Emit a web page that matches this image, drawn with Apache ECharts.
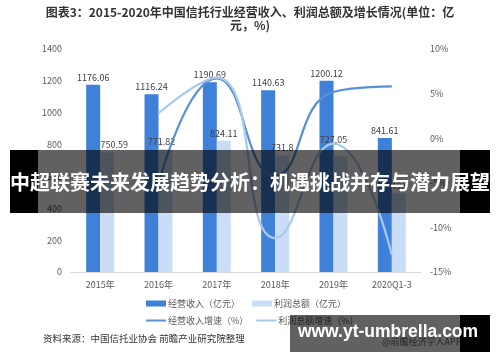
<!DOCTYPE html>
<html>
<head>
<meta charset="utf-8">
<script src="https://cdn.jsdelivr.net/npm/echarts@6/dist/echarts.min.js"></script>
<style>html,body{margin:0;padding:0;background:#fff;}#c{width:500px;height:362px;}</style>
</head>
<body>
<div id="c"></div>
<script>
const categories = ['2015年', '2016年', '2017年', '2018年', '2019年', '2020Q1-3'];
const revenue = [1176.06, 1116.24, 1190.69, 1140.63, 1200.12, 841.61];
const profit = [750.59, 771.82, 824.11, 731.8, 727.05, 493];
const revenueGrowth = [null, -5.1, 6.7, -4.2, 5.2, 5.8];
const profitGrowth = [null, 2.8, 6.8, -11.2, -0.6, -13.1];
const leftTicks = [0, 1400, 200];
const rightTicks = [-15, 10, 5];

const chart = echarts.init(document.getElementById('c'), null, {renderer: 'canvas'});
const FONT = '"Noto Sans CJK SC", "Noto Sans", sans-serif';
const REV_LINE = '#5b8fd6';
const PRO_LINE = '#a8c9ee';
const profitLabelOffsets = [[7, 0], [-4, 0], [0, 0], [0, 0], [-7, -9], [0, 0]];
const profitGrowthOffsets = [[0,0],[0,0],[2,15],[0,0],[4,13],[0,0]];

chart.setOption({
  animation: false,
  textStyle: {fontFamily: FONT},
  title: {
    text: '图表3：2015-2020年中国信托行业经营收入、利润总额及增长情况(单位：亿\n元，%)',
    left: 'center', top: 6, padding: 0,
    textStyle: {fontSize: 12, fontWeight: 'bold', color: '#333', lineHeight: 13, fontFamily: FONT, align: 'center'}
  },
  grid: {left: 71, right: 79, top: 49, bottom: 90},
  legend: [{
    data: ['经营收入（亿元）', '利润总额（亿元）'],
    left: 146, top: 299, padding: 0, itemWidth: 20, itemHeight: 6, itemGap: 12, icon: 'rect',
    textStyle: {fontSize: 9, color: '#595959', padding: [0,0,0,-3]}
  }, {
    data: [
      {name: '经营收入增速（%）', itemStyle: {color: REV_LINE, opacity: 1}},
      {name: '利润总额增速（%）', itemStyle: {color: PRO_LINE, opacity: 1}}
    ],
    left: 146, top: 316, padding: 0, itemWidth: 20, itemHeight: 2, itemGap: 8, icon: 'rect',
    textStyle: {fontSize: 9, color: '#595959', padding: [0,0,0,-3]}
  }],
  xAxis: {
    type: 'category', data: categories,
    axisLine: {lineStyle: {color: '#d9d9d9'}},
    axisTick: {show: false},
    axisLabel: {fontSize: 9, color: '#595959', margin: 8}
  },
  yAxis: [{
    type: 'value', min: leftTicks[0], max: leftTicks[1], interval: leftTicks[2],
    splitLine: {show: false}, axisLine: {show: false}, axisTick: {show: false},
    axisLabel: {fontSize: 9, color: '#595959', margin: 9, formatter: v => String(v)}
  }, {
    type: 'value', min: rightTicks[0], max: rightTicks[1], interval: rightTicks[2],
    splitLine: {show: false}, axisLine: {show: false}, axisTick: {show: false},
    axisLabel: {fontSize: 9, color: '#595959', margin: 9, formatter: '{value}%'}
  }],
  series: [{
    name: '经营收入（亿元）', type: 'bar', data: revenue, barWidth: 14, barGap: '0%',
    itemStyle: {color: '#3f80d8'},
    label: {show: true, position: 'top', distance: 3, fontSize: 9, color: '#404040'}
  }, {
    name: '利润总额（亿元）', type: 'bar', data: profit.map((v, i) => ({value: v, label: {offset: profitLabelOffsets[i]}})), barWidth: 14, barGap: '0%',
    itemStyle: {color: '#c9def6'},
    label: {show: true, position: 'top', distance: 3, fontSize: 9, color: '#404040'}
  }, {
    name: '经营收入增速（%）', type: 'line', yAxisIndex: 1, data: revenueGrowth, smooth: 0.5,
    symbol: 'circle', symbolSize: 1, connectNulls: false,
    lineStyle: {color: REV_LINE, width: 2.2}, itemStyle: {color: REV_LINE, opacity: 0},
    label: {show: true, position: 'right', distance: 6, fontSize: 9, color: '#404040', formatter: p => p.value + '%'}
  }, {
    name: '利润总额增速（%）', type: 'line', yAxisIndex: 1, data: profitGrowth.map((v, i) => ({value: v, label: {offset: profitGrowthOffsets[i]}})), smooth: 0.5,
    symbol: 'circle', symbolSize: 1,
    lineStyle: {color: PRO_LINE, width: 2.2}, itemStyle: {color: PRO_LINE, opacity: 0},
    label: {show: true, position: 'right', distance: 6, fontSize: 9, color: '#404040', formatter: p => p.value + '%'}
  }],
  graphic: [
    {type: 'text', left: 43, top: 334, z: 50, style: {text: '资料来源：中国信托业协会 前瞻产业研究院整理', fontSize: 9.5, fill: '#333', fontFamily: FONT}},
    {type: 'rect', shape: {x: 10, y: 150, width: 28, height: 63}, style: {fill: '#000'}, z: 100},
    {type: 'rect', shape: {x: 38, y: 150, width: 422, height: 63}, style: {fill: 'rgba(0,0,0,0.62)'}, z: 100},
    {type: 'rect', shape: {x: 460, y: 150, width: 30, height: 63}, style: {fill: '#000'}, z: 100},
    {type: 'text', x: 250, y: 182, z: 101, style: {text: '中超联赛未来发展趋势分析：机遇挑战并存与潜力展望', fontSize: 20, fontWeight: 'bold', fill: '#fff', align: 'center', verticalAlign: 'middle', fontFamily: FONT}},
    {type: 'text', x: 382, y: 337, z: 90, style: {text: '@前瞻经济学人APP', fontSize: 9, fill: '#666', fontFamily: FONT}},
    {type: 'rect', shape: {x: 290, y: 315, width: 170, height: 37}, style: {fill: 'rgba(0,0,0,0.62)'}, z: 100},
    {type: 'rect', shape: {x: 460, y: 315, width: 30, height: 37}, style: {fill: '#000'}, z: 100},
    {type: 'text', x: 388, y: 332, z: 101, style: {text: 'www.yt-umbrella.com', fontSize: 17.5, fontWeight: 'bold', fill: '#fff', align: 'center', verticalAlign: 'middle', fontFamily: '"Liberation Sans", Arial, sans-serif'}}
  ]
});
</script>
</body>
</html>
